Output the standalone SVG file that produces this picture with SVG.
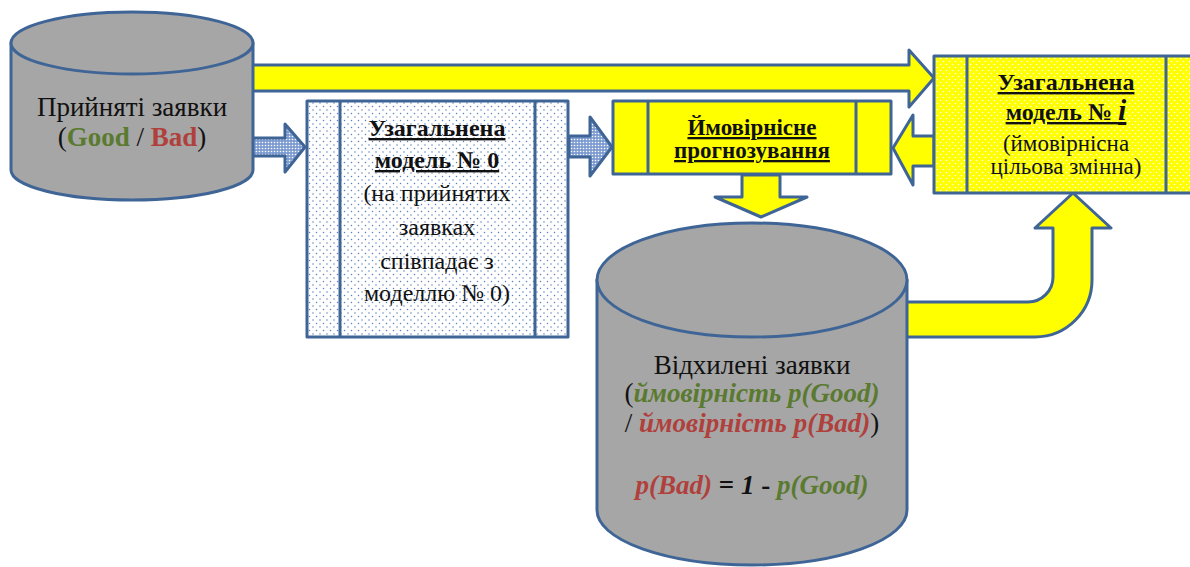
<svg xmlns="http://www.w3.org/2000/svg" width="1190" height="567" viewBox="0 0 1190 567">
<style>
.st{stroke:#3F6597;stroke-width:3;stroke-linejoin:round}
.gray{fill:#A6A6A6}
.yel{fill:#FFFF00}
.t{font-family:"Liberation Serif","Times New Roman",serif;text-anchor:middle;fill:#111}
.b{font-weight:bold}
.u{text-decoration:underline}
.i{font-style:italic}
.g{fill:#5A7A30}
.r{fill:#B0403C}
</style>
<defs>
<pattern id="dotsBlue" width="7" height="7" patternUnits="userSpaceOnUse">
<rect width="7" height="7" fill="#FFFFFF"/>
<circle cx="1.5" cy="1.5" r="0.75" fill="#5B7FBF"/>
<circle cx="5" cy="5" r="0.75" fill="#5B7FBF"/>
</pattern>
<pattern id="dotsYel" width="6" height="6" patternUnits="userSpaceOnUse">
<rect width="6" height="6" fill="#FFFF00"/>
<circle cx="1.5" cy="1.5" r="0.8" fill="#FFFFFF"/>
<circle cx="4.5" cy="4.5" r="0.8" fill="#FFFFFF"/>
</pattern>
<pattern id="dense" width="3" height="3" patternUnits="userSpaceOnUse">
<rect width="3" height="3" fill="#7D9BD0"/>
<circle cx="1.5" cy="1.5" r="0.8" fill="#FFFFFF"/>
</pattern>
</defs>

<g id="connectors">
<path class="st yel" d="M245,65 L909,65 L909,50 L934,78 L909,107 L909,91 L245,91 Z"/>
<path class="st" fill="url(#dense)" d="M250,138 L285,138 L285,124 L305,147 L285,172 L285,156 L250,156 Z"/>
<path class="st" fill="url(#dense)" d="M569,136 L590,136 L590,117 L612,147 L590,176 L590,157 L569,157 Z"/>
<path class="st yel" d="M934,136 L913,136 L913,115 L893,148 L913,185 L913,166 L934,166 Z"/>
<path class="st yel" d="M742,175 L742,197 L715,197 L761,217 L807,197 L780,197 L780,175 Z"/>
<path class="st yel" d="M900,302 L1028,302 A25,25 0 0 0 1053,277 L1053,228 L1035,228 L1073,193 L1111,228 L1092,228 L1092,280 A57,57 0 0 1 1035,337 L900,337 Z"/>
</g>

<g id="accepted">
<path class="st gray" d="M11,43 L11,170 A121,30 0 0 0 253,170 L253,43 Z"/>
<ellipse class="st gray" cx="132" cy="43" rx="121" ry="31"/>
<text class="t" x="132" y="116" font-size="27">Прийняті заявки</text>
<text class="t" x="132" y="146" font-size="27">(<tspan class="b g">Good</tspan> / <tspan class="b r">Bad</tspan>)</text>
</g>

<g id="model0">
<rect class="st" fill="url(#dotsBlue)" x="307" y="101" width="261" height="236"/>
<line class="st" x1="340" y1="101" x2="340" y2="337"/>
<line class="st" x1="535" y1="101" x2="535" y2="337"/>
<text class="t b u" x="437" y="136" font-size="24">Узагальнена</text>
<text class="t b u" x="437" y="168" font-size="24">модель  № 0</text>
<text class="t" x="437" y="201" font-size="24">(на прийнятих</text>
<text class="t" x="437" y="235" font-size="24">заявках</text>
<text class="t" x="437" y="269" font-size="24">співпадає з</text>
<text class="t" x="437" y="301" font-size="24">моделлю  № 0)</text>
</g>

<g id="forecasting">
<rect class="st yel" x="613" y="101" width="278" height="73"/>
<line class="st" x1="648" y1="101" x2="648" y2="174"/>
<line class="st" x1="856" y1="101" x2="856" y2="174"/>
<text class="t b u" x="752" y="135" font-size="23">Ймовірнісне</text>
<text class="t b u" x="752" y="158" font-size="23">прогнозування</text>
</g>

<g id="modeli">
<rect class="st" fill="url(#dotsYel)" x="934" y="56" width="264" height="137"/>
<line class="st" x1="967" y1="56" x2="967" y2="193"/>
<line class="st" x1="1166" y1="56" x2="1166" y2="193"/>
<text class="t b u" x="1066" y="90" font-size="24">Узагальнена</text>
<text class="t b u" x="1066" y="120" font-size="24">модель  № <tspan class="i" font-size="30">i</tspan></text>
<text class="t" x="1066" y="151" font-size="23">(ймовірнісна</text>
<text class="t" x="1066" y="174" font-size="23">цільова змінна)</text>
</g>

<g id="rejected">
<path class="st gray" d="M597,280 L597,510 A155,55 0 0 0 907,510 L907,280 Z"/>
<ellipse class="st gray" cx="752" cy="280" rx="155" ry="57"/>
<text class="t" x="752" y="374" font-size="27">Відхилені заявки</text>
<text class="t" x="752" y="402" font-size="27">(<tspan class="b i g">ймовірність p(Good)</tspan></text>
<text class="t" x="752" y="432" font-size="27">/ <tspan class="b i r">ймовірність p(Bad)</tspan>)</text>
<text class="t" x="752" y="494" font-size="27"><tspan class="b i r">p(Bad)</tspan><tspan class="b"> = </tspan><tspan class="b i">1</tspan><tspan class="b"> - </tspan><tspan class="b i g">p(Good)</tspan></text>
</g>
</svg>
